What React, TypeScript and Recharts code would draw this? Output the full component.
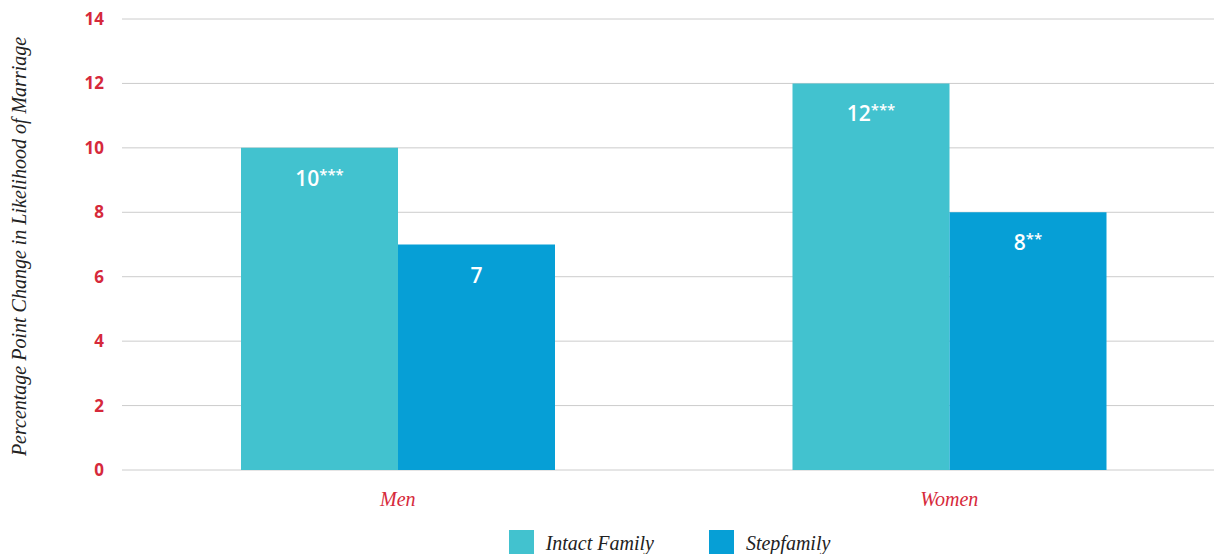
import React from 'react';
import { BarChart, Bar, XAxis, YAxis, CartesianGrid, Legend, LabelList } from 'recharts';

const categories = ['Men', 'Women'];
const intactValues = [10, 12];
const stepValues = [7, 8];
const intactLabels = ['10***', '12***'];
const stepLabels = ['7', '8**'];
const yTicks = [0, 2, 4, 6, 8, 10, 12, 14];
const seriesNames = ['Intact Family', 'Stepfamily'];
const seriesColors = ['#42C2CF', '#069FD6'];

const data = categories.map((c, i) => ({
  category: c,
  intact: intactValues[i],
  step: stepValues[i],
  intactLabel: intactLabels[i],
  stepLabel: stepLabels[i],
}));

const RED = '#D6293B';
const SERIF = '"Liberation Serif", "DejaVu Serif", serif';
const SANS = '"Open Sans", "Noto Sans", sans-serif';

const BarValueLabel = (props: any) => {
  const { x, y, width, value } = props;
  const str = String(value);
  const m = str.match(/^([^*]*)(\**)$/);
  const num = m ? m[1] : str;
  const stars = m ? m[2] : '';
  return (
    <text
      x={x + width / 2}
      y={y + 38}
      textAnchor="middle"
      fill="#ffffff"
      fontFamily={SANS}
      fontWeight={600}
      fontSize={21}
    >
      <tspan>{num}</tspan>
      {stars ? (
        <tspan fontSize={15} dy={-6}>
          {stars}
        </tspan>
      ) : null}
    </text>
  );
};

const YLabel = (props: any) => {
  const { viewBox } = props;
  const cy = viewBox.y + viewBox.height / 2 + 2;
  const cx = 26;
  return (
    <text
      x={cx}
      y={cy}
      transform={`rotate(-90, ${cx}, ${cy})`}
      textAnchor="middle"
      fill="#222"
      fontFamily={SERIF}
      fontStyle="italic"
      fontSize={20}
    >
      Percentage Point Change in Likelihood of Marriage
    </text>
  );
};

const CustomLegend = () => (
  <div
    style={{
      display: 'flex',
      justifyContent: 'center',
      alignItems: 'flex-start',
      width: '100%',
    }}
  >
    {seriesNames.map((n, i) => (
      <div
        key={n}
        style={{
          display: 'flex',
          alignItems: 'flex-start',
          marginRight: i === 0 ? 55 : 0,
        }}
      >
        <div style={{ width: 25, height: 25, background: seriesColors[i], marginRight: 12 }} />
        <span
          style={{
            fontFamily: SERIF,
            fontStyle: 'italic',
            fontSize: 20,
            color: '#222',
            lineHeight: '22px',
            marginTop: 2,
          }}
        >
          {n}
        </span>
      </div>
    ))}
  </div>
);

export default function App() {
  return (
    <div
      style={{
        position: 'absolute',
        left: 0,
        top: 0,
        width: 1214,
        height: 554,
        overflow: 'hidden',
        background: '#fff',
      }}
    >
      <BarChart
        width={1225}
        height={566}
        data={data}
        margin={{ top: 19, right: 0, left: 0, bottom: 41 }}
        barCategoryGap={119}
        barGap={0}
      >
        <CartesianGrid vertical={false} stroke="#cccccc" strokeWidth={1} />
        <XAxis
          dataKey="category"
          axisLine={false}
          tickLine={false}
          tickMargin={16}
          tick={{ fill: RED, fontFamily: SERIF, fontStyle: 'italic', fontSize: 20 }}
        />
        <YAxis
          width={122}
          domain={[0, 14]}
          ticks={yTicks}
          axisLine={false}
          tickLine={false}
          tickMargin={12}
          tick={{ fill: RED, fontFamily: SANS, fontWeight: 700, fontSize: 17 }}
          label={<YLabel />}
        />
        <Legend
          content={<CustomLegend />}
          wrapperStyle={{ left: 118, width: 1103, top: 530 }}
        />
        <Bar dataKey="intact" name={seriesNames[0]} fill={seriesColors[0]} isAnimationActive={false}>
          <LabelList dataKey="intactLabel" content={<BarValueLabel />} />
        </Bar>
        <Bar dataKey="step" name={seriesNames[1]} fill={seriesColors[1]} isAnimationActive={false}>
          <LabelList dataKey="stepLabel" content={<BarValueLabel />} />
        </Bar>
      </BarChart>
    </div>
  );
}
